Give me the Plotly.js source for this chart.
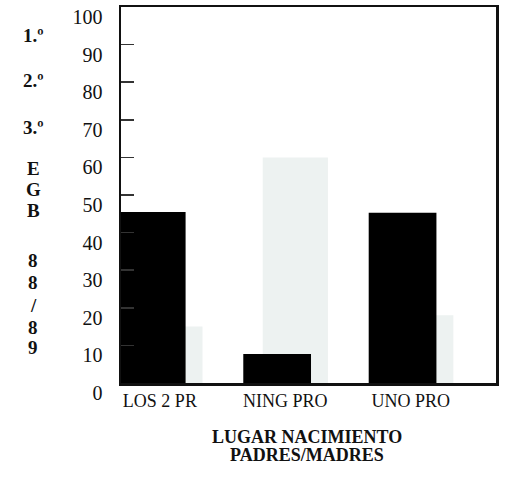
<!DOCTYPE html>
<html>
<head>
<meta charset="utf-8">
<script src="https://cdn.plot.ly/plotly-3.0.1.min.js"></script>
<style>html,body{margin:0;padding:0;background:#fff;}#chart{width:505px;height:481px;}</style>
</head>
<body>
<div id="chart"></div>
<script>
const categories = ['LOS 2 PR', 'NING PRO', 'UNO PRO'];
const serie1 = [45.5, 7.7, 45.3];   // 1.º (negro)
const serie2 = [15, 60, 18];        // 2.º (gris muy claro)
const yTicks = [0, 10, 20, 30, 40, 50, 60, 70, 80, 90, 100];
const sideLabels = ['1.º', '2.º', '3.º', 'E', 'G', 'B', '8', '8', '/', '8', '9'];
const sideY = [35, 80, 127, 168, 189, 210, 260, 282, 305, 327, 347];
const xTitleLines = ['LUGAR NACIMIENTO', 'PADRES/MADRES'];
const xTitleY = [437, 455];

const serif = 'Liberation Serif, Times New Roman, serif';
const L = 121, T = 7, W = 375, H = 376;

const traces = [
  {
    type: 'bar', name: '2.º', x: categories, y: serie2,
    marker: {color: '#edf2f1', line: {width: 0}},
    offset: -0.18, width: 0.52, hoverinfo: 'x+y'
  },
  {
    type: 'bar', name: '1.º', x: categories, y: serie1,
    marker: {color: '#000000', line: {width: 0}},
    offset: -0.335, width: 0.54, hoverinfo: 'x+y'
  }
];

const annotations = sideLabels.map((t, i) => ({
  text: t, xref: 'paper', yref: 'paper',
  x: (33 - L) / W, y: 1 - (sideY[i] - T) / H,
  xanchor: 'center', yanchor: 'middle', showarrow: false,
  font: {family: serif, size: 19, color: '#111', weight: 'bold'}
})).concat(xTitleLines.map((t, i) => ({
  text: t, xref: 'paper', yref: 'paper',
  x: (307 - L) / W, y: 1 - (xTitleY[i] - T) / H,
  xanchor: 'center', yanchor: 'middle', showarrow: false,
  font: {family: serif, size: 18, color: '#111', weight: 'bold'}
})));

const layout = {
  width: 505, height: 481,
  margin: {l: L, r: 9, t: T, b: 98},
  paper_bgcolor: '#ffffff', plot_bgcolor: '#ffffff',
  barmode: 'overlay', showlegend: false,
  font: {family: serif, color: '#111'},
  xaxis: {
    type: 'category', range: [-0.31, 2.68],
    showline: true, mirror: true, linecolor: '#111', linewidth: 2.5,
    ticks: '', showgrid: false, zeroline: false,
    tickfont: {family: serif, size: 18, color: '#111'}
  },
  yaxis: {
    range: [0, 100], tickvals: yTicks, ticktext: yTicks.map(String),
    showline: true, mirror: true, linecolor: '#111', linewidth: 2.5,
    ticks: 'inside', ticklen: 13, tickwidth: 1.5, tickcolor: '#333',
    showgrid: false, zeroline: false,
    tickfont: {family: serif, size: 20, color: '#111'},
    ticklabelshift: 10, ticklabelstandoff: 12
  },
  annotations: annotations
};

Plotly.newPlot('chart', traces, layout, {displayModeBar: false, staticPlot: true});
</script>
</body>
</html>
